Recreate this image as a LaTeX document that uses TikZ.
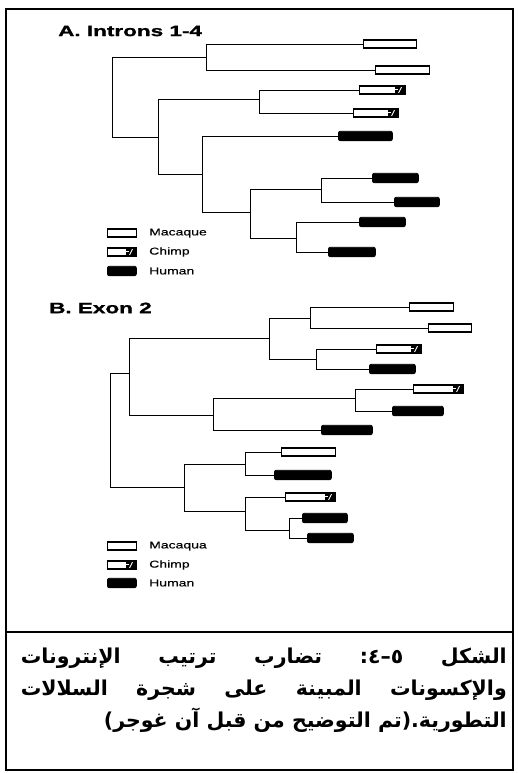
\documentclass[tikz,border=0pt]{standalone}
\usepackage{fontspec}
\setmainfont{Liberation Sans}
\newfontfamily\titlefont[FakeStretch=1.5, BoldFeatures={FakeBold=1.2}]{Liberation Sans}
\newfontfamily\legendfont[FakeStretch=1.4, FakeBold=0.5]{Liberation Sans}
\newfontfamily\arabicfont[Script=Arabic]{DejaVu Sans}
\TeXXeTstate=1
\newcommand\leaf[5]{\node[#2, minimum width={#4-#3}] (#1) at (#3,#5) {};}
\begin{document}
\begin{tikzpicture}[x=1pt,y=-1pt,
  branch/.style={line width=0.9pt},
  mac/.style={draw, line width=1.1pt, fill=white, minimum height=8pt, inner sep=0pt, anchor=west},
  chimp/.style={mac, path picture={
     \fill[black] ([xshift=-11pt]path picture bounding box.north east) rectangle (path picture bounding box.south east);
     \draw[white, line width=0.8pt] ([xshift=-11pt,yshift=-3pt]path picture bounding box.north east) -- ([xshift=-8pt,yshift=-3pt]path picture bounding box.north east);
     \draw[white, line width=0.8pt] ([xshift=-7pt,yshift=1pt]path picture bounding box.south east) -- ([xshift=-4pt,yshift=-1pt]path picture bounding box.north east);}},
  human/.style={draw, line width=0.8pt, fill=black, rounded corners=2pt, minimum height=9.5pt, inner sep=0pt, anchor=west},
  title/.style={font=\titlefont\bfseries\fontsize{15}{15}\selectfont, anchor=west, inner sep=0pt},
  legtext/.style={font=\legendfont\fontsize{10}{10}\selectfont, anchor=west, inner sep=0pt},
  captext/.style={font=\arabicfont\bfseries\fontsize{20.5}{20.5}\selectfont, anchor=base east, inner sep=0pt},
  frame/.style={line width=1.2pt}]
\useasboundingbox (0,0) rectangle (517,773);
\fill[white] (0,0) rectangle (517,773);
% frame
\draw[frame] (6,9) rectangle (513,770);
\draw[frame] (6,632) -- (513,632);

% ---------- Panel A ----------
\node[title] (tA) at (58,31) {A. Introns 1-4};
\coordinate (aR) at (112,97);
\coordinate (a1) at (206,57);
\coordinate (a2) at (158,137);
\coordinate (a3) at (259,99);
\coordinate (a4) at (202,174);
\coordinate (a5) at (250,212);
\coordinate (a6) at (321,189);
\coordinate (a7) at (296,238);
\leaf{L1}{mac}{363}{416}{44}
\leaf{L2}{mac}{375}{429}{70}
\leaf{L3}{chimp}{359}{405}{90}
\leaf{L4}{chimp}{353}{398}{113}
\leaf{L5}{human}{338}{392}{136}
\leaf{L6}{human}{372}{418}{178}
\leaf{L7}{human}{394}{439}{202}
\leaf{L8}{human}{359}{405}{222}
\leaf{L9}{human}{328}{375}{252}
\draw[branch] (aR) |- (a1);
\draw[branch] (aR) |- (a2);
\draw[branch] (a1) |- (L1.west);
\draw[branch] (a1) |- (L2.west);
\draw[branch] (a2) |- (a3);
\draw[branch] (a2) |- (a4);
\draw[branch] (a3) |- (L3.west);
\draw[branch] (a3) |- (L4.west);
\draw[branch] (a4) |- (L5.west);
\draw[branch] (a4) |- (a5);
\draw[branch] (a5) |- (a6);
\draw[branch] (a5) |- (a7);
\draw[branch] (a6) |- (L6.west);
\draw[branch] (a6) |- (L7.west);
\draw[branch] (a7) |- (L8.west);
\draw[branch] (a7) |- (L9.west);
% legend A
\leaf{lgAm}{mac}{107}{136}{233}
\leaf{lgAc}{chimp}{107}{136}{252}
\leaf{lgAh}{human}{107}{136}{271}
\node[legtext] (lgAmt) at (149,233) {Macaque};
\node[legtext] (lgAct) at (149,252) {Chimp};
\node[legtext] (lgAht) at (149,271) {Human};

% ---------- Panel B ----------
\node[title] (tB) at (49,308) {B. Exon 2};
\coordinate (bR) at (110,430);
\coordinate (b1) at (129,373);
\coordinate (b2) at (184,487);
\coordinate (b3) at (269,338);
\coordinate (b4) at (213,415);
\coordinate (b5) at (310,318);
\coordinate (b6) at (316,359);
\coordinate (b7) at (355,398);
\coordinate (b8) at (245,464);
\coordinate (b9) at (245,511);
\coordinate (b10) at (289,530);
\leaf{M1}{mac}{409}{453}{307}
\leaf{M2}{mac}{428}{471}{328}
\leaf{C1}{chimp}{376}{421}{349}
\leaf{H1}{human}{369}{415}{369}
\leaf{C2}{chimp}{413}{463}{389}
\leaf{H3}{human}{392}{443}{411}
\leaf{H2}{human}{321}{372}{430}
\leaf{M3}{mac}{281}{335}{452}
\leaf{H4}{human}{274}{331}{475}
\leaf{C3}{chimp}{285}{335}{497}
\leaf{H5}{human}{302}{347}{518}
\leaf{H6}{human}{307}{353}{538}
\draw[branch] (bR) |- (b1);
\draw[branch] (bR) |- (b2);
\draw[branch] (b1) |- (b3);
\draw[branch] (b1) |- (b4);
\draw[branch] (b3) |- (b5);
\draw[branch] (b3) |- (b6);
\draw[branch] (b5) |- (M1.west);
\draw[branch] (b5) |- (M2.west);
\draw[branch] (b6) |- (C1.west);
\draw[branch] (b6) |- (H1.west);
\draw[branch] (b4) |- (b7);
\draw[branch] (b4) |- (H2.west);
\draw[branch] (b7) |- (C2.west);
\draw[branch] (b7) |- (H3.west);
\draw[branch] (b2) |- (b8);
\draw[branch] (b2) |- (b9);
\draw[branch] (b8) |- (M3.west);
\draw[branch] (b8) |- (H4.west);
\draw[branch] (b9) |- (C3.west);
\draw[branch] (b9) |- (b10);
\draw[branch] (b10) |- (H5.west);
\draw[branch] (b10) |- (H6.west);
% legend B
\leaf{lgBm}{mac}{107}{136}{546}
\leaf{lgBc}{chimp}{107}{136}{565}
\leaf{lgBh}{human}{107}{136}{583}
\node[legtext] (lgBmt) at (149,546) {Macaqua};
\node[legtext] (lgBct) at (149,565) {Chimp};
\node[legtext] (lgBht) at (149,583) {Human};

% ---------- Caption ----------
\node[captext] (cap1) at (507,663) {\hbox to 486pt{\beginR الشكل\hfill ٥–٤:\hfill تضارب\hfill ترتيب\hfill الإنترونات\endR}};
\node[captext] (cap2) at (507,695) {\hbox to 486pt{\beginR والإكسونات\hfill المبينة\hfill على\hfill شجرة\hfill السلالات\endR}};
\node[captext] (cap3) at (507,727) {\beginR التطورية.(تم التوضيح من قبل آن غوجر)\endR};
\end{tikzpicture}
\end{document}
